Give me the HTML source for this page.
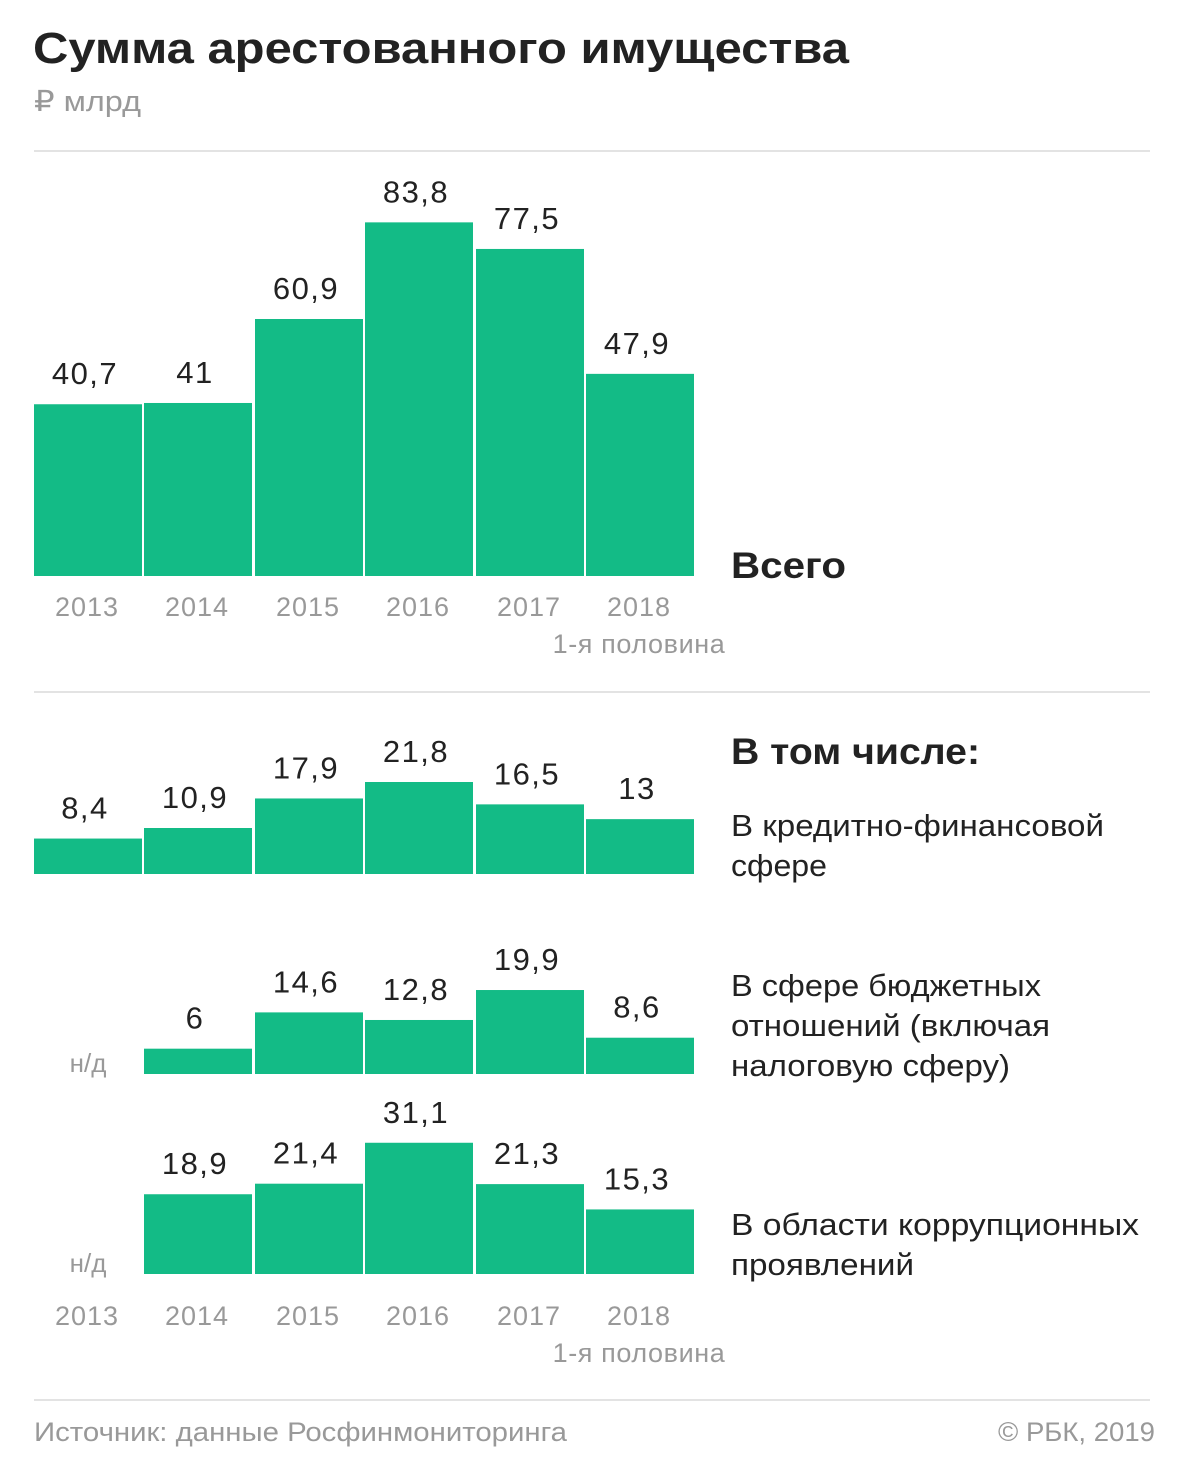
<!DOCTYPE html>
<html><head><meta charset="utf-8"><style>
body{margin:0;background:#fff;}
svg text{font-family:"Liberation Sans","Noto Sans CJK SC",sans-serif;}
</style></head><body>
<svg id="c" width="1180" height="1462" xmlns="http://www.w3.org/2000/svg">
<text x="33" y="63" font-size="44" font-weight="bold" fill="#222" textLength="816" lengthAdjust="spacingAndGlyphs">Сумма арестованного имущества</text>
<text x="34" y="111" font-size="29" fill="#999" textLength="107" lengthAdjust="spacingAndGlyphs">₽ млрд</text>
<line x1="34" y1="151" x2="1150" y2="151" stroke="#e3e3e3" stroke-width="2"/>
<line x1="34" y1="692" x2="1150" y2="692" stroke="#e3e3e3" stroke-width="2"/>
<line x1="34" y1="1400" x2="1150" y2="1400" stroke="#e3e3e3" stroke-width="2"/>
<text x="731" y="578" font-size="37" font-weight="bold" fill="#222" textLength="115" lengthAdjust="spacingAndGlyphs">Всего</text>
<text x="731" y="764" font-size="37" font-weight="bold" fill="#222" textLength="249" lengthAdjust="spacingAndGlyphs">В том числе:</text>
<text font-size="31" fill="#222"><tspan x="731" y="836" textLength="373" lengthAdjust="spacingAndGlyphs">В кредитно-финансовой</tspan><tspan x="731" y="876" textLength="96" lengthAdjust="spacingAndGlyphs">сфере</tspan></text>
<text font-size="31" fill="#222"><tspan x="731" y="996" textLength="310" lengthAdjust="spacingAndGlyphs">В сфере бюджетных</tspan><tspan x="731" y="1036" textLength="319" lengthAdjust="spacingAndGlyphs">отношений (включая</tspan><tspan x="731" y="1076" textLength="279" lengthAdjust="spacingAndGlyphs">налоговую сферу)</tspan></text>
<text font-size="31" fill="#222"><tspan x="731" y="1235" textLength="408" lengthAdjust="spacingAndGlyphs">В области коррупционных</tspan><tspan x="731" y="1275" textLength="183" lengthAdjust="spacingAndGlyphs">проявлений</tspan></text>
<text x="34" y="1441" font-size="27" fill="#999" textLength="533" lengthAdjust="spacingAndGlyphs">Источник: данные Росфинмониторинга</text>
<text x="998" y="1441" font-size="27" fill="#999" textLength="157" lengthAdjust="spacingAndGlyphs">© РБК, 2019</text>
</svg>
<script>
const years = ["2013","2014","2015","2016","2017","2018"];
const totalValues = [40.7, 41, 60.9, 83.8, 77.5, 47.9];
const creditValues = [8.4, 10.9, 17.9, 21.8, 16.5, 13];
const budgetValues = [null, 6, 14.6, 12.8, 19.9, 8.6];
const corruptionValues = [null, 18.9, 21.4, 31.1, 21.3, 15.3];

const svg = document.getElementById('c');
const NS = 'http://www.w3.org/2000/svg';
const x0 = 34, step = 110.4, pxPerUnit = 4.22;
function xScale(i){ return Math.round(x0 + i*step); }
function yScale(v, base){ return base - v*pxPerUnit; }
function fmt(v){ return String(v).replace('.', ','); }
function mk(tag, attrs){ const e = document.createElementNS(NS, tag); for (const k in attrs) e.setAttribute(k, attrs[k]); return e; }

function drawSeries(values, base, name){
  values.forEach((v, i) => {
    const x = xScale(i);
    if (v === null) {
      const t = mk('text', {x: x + 54, y: base - 2, 'font-size': 26, fill: '#999', 'text-anchor': 'middle'});
      
      
      t.textContent = 'н/д';
      svg.appendChild(t);
      return;
    }
    const y = yScale(v, base);
    const r = mk('rect', {x: x, y: y, width: 108, height: base - y, fill: '#13bb86'});
    
    
    svg.appendChild(r);
    const t = mk('text', {x: x + 51, y: y - 20, 'font-size': 31, fill: '#222', 'text-anchor': 'middle', 'letter-spacing': '1.5'});
    
    
    t.textContent = fmt(v);
    svg.appendChild(t);
  });
}
function drawYears(yPos, name){
  years.forEach((yr, i) => {
    const t = mk('text', {x: xScale(i) + 53, y: yPos, 'font-size': 27, fill: '#999', 'text-anchor': 'middle', 'letter-spacing': '1'});
    
    
    t.textContent = yr;
    svg.appendChild(t);
  });
  const h = mk('text', {x: 639, y: yPos + 37, 'font-size': 27, fill: '#999', 'text-anchor': 'middle', 'letter-spacing': '0.6'});
  
  
  h.textContent = '1-я половина';
  svg.appendChild(h);
}
drawSeries(totalValues, 576, 'total');
drawYears(616, 'top-axis');
drawSeries(creditValues, 874, 'credit');
drawSeries(budgetValues, 1074, 'budget');
drawSeries(corruptionValues, 1274, 'corruption');
drawYears(1325, 'bottom-axis');
</script>
</body></html>
